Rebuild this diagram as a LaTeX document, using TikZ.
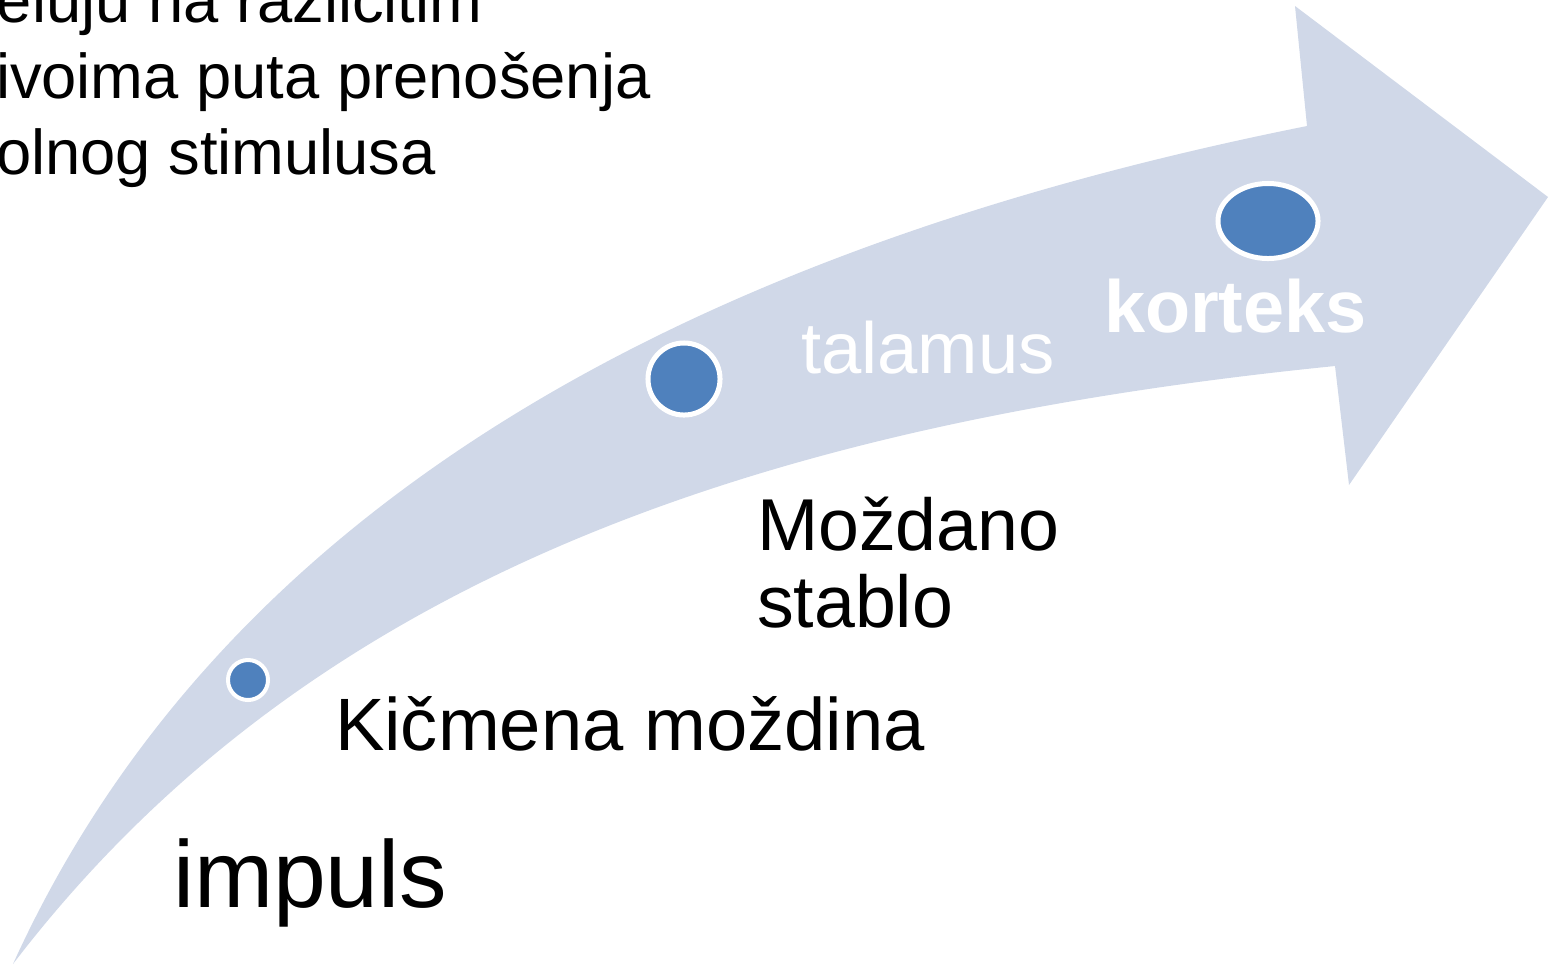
\documentclass[tikz,border=0pt]{standalone}
\usepackage{fontspec}
\setmainfont{Liberation Sans}
\usetikzlibrary{shapes.geometric}
\definecolor{bandcol}{HTML}{D0D8E8}
\definecolor{dotcol}{HTML}{4F81BD}
\tikzset{
  dotnode/.style={circle, fill=dotcol, draw=white, inner sep=0pt},
  txt/.style={anchor=base west, inner sep=0pt, outer sep=0pt},
}
\begin{document}
\begin{tikzpicture}[x=0.01cm, y=-0.01cm]
\useasboundingbox (0,0) rectangle (1549,966);
\clip (0,0) rectangle (1549,966);
% band arrow
\fill[bandcol] (13,964) .. controls (241,462) and (767,234) .. (1307,126)
  -- (1295,6) -- (1548,197) -- (1349,485) -- (1335,366)
  .. controls (738,426) and (300,589) .. (13,964) -- cycle;
% dots
\node[dotnode, minimum size=0.40cm, line width=0.04cm] (d1) at (248,680) {};
\node[dotnode, minimum size=0.72cm, line width=0.05cm] (d2) at (684,379) {};
\node[dotnode, ellipse, minimum width=1.00cm, minimum height=0.75cm, line width=0.05cm] (d3) at (1268,221) {};
% labels
\node[txt, font=\fontsize{27pt}{30pt}\selectfont] (impuls) at (173,907) {impuls};
\node[txt, font=\fontsize{21.1pt}{24pt}\selectfont] (kic) at (335,750) {Kičmena moždina};
\node[txt, font=\fontsize{20.9pt}{24pt}\selectfont] (moz1) at (757,550) {Moždano};
\node[txt, font=\fontsize{20.9pt}{24pt}\selectfont] (moz2) at (757,627) {stablo};
\node[txt, font=\fontsize{20.6pt}{24pt}\selectfont, text=white] (tal) at (801,373) {talamus};
\node[txt, font=\fontsize{21pt}{24pt}\selectfont\bfseries, text=white] (kor) at (1104,332) {korteks};
\node[txt, font=\fontsize{18pt}{22pt}\selectfont] (tl1) at (-3,22) {eluju na različitim};
\node[txt, font=\fontsize{18pt}{22pt}\selectfont] (tl2) at (-4,98) {ivoima puta prenošenja};
\node[txt, font=\fontsize{18pt}{22pt}\selectfont] (tl3) at (-4,174) {olnog stimulusa};
\end{tikzpicture}
\end{document}
